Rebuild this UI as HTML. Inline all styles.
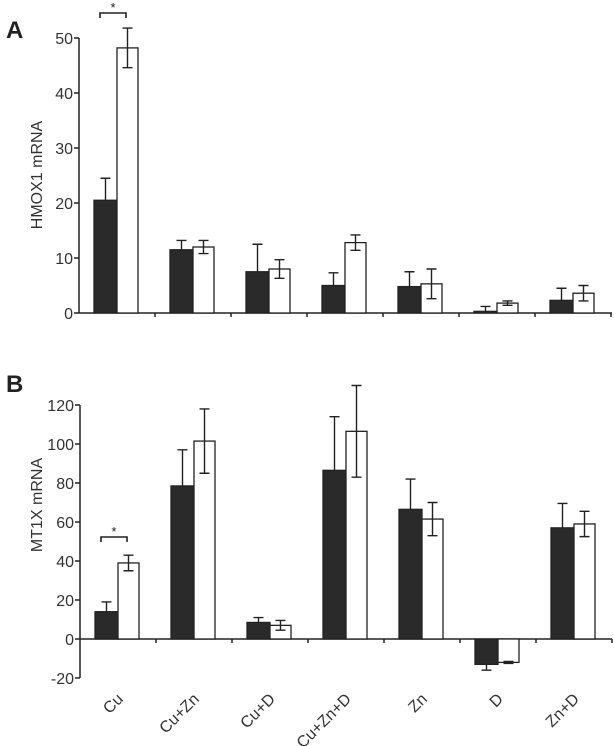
<!DOCTYPE html>
<html><head><meta charset="utf-8"><style>
body{margin:0;background:#fff;}
svg{display:block;font-family:"Liberation Sans",Arial,sans-serif;}
</style></head><body>
<svg id="chart" width="614" height="746" xmlns="http://www.w3.org/2000/svg">
<text x="6" y="38" font-size="24" font-weight="bold" fill="#222">A</text>
<text x="6" y="392" font-size="24" font-weight="bold" fill="#222">B</text>
</svg>
<script>
const categories=["Cu","Cu+Zn","Cu+D","Cu+Zn+D","Zn","D","Zn+D"];
const aBlack=[20.5,11.5,7.5,5,4.8,0.3,2.3];
const aBlackErr=[4,1.7,5,2.3,2.7,0.9,2.2];
const aWhite=[48.2,12,8,12.8,5.3,1.8,3.6];
const aWhiteErr=[3.6,1.2,1.7,1.4,2.7,0.4,1.4];
const aTicks=[0,10,20,30,40,50];
const bBlack=[14,78.5,8.5,86.5,66.5,-13,57];
const bBlackErr=[5,18.5,2.5,27.5,15.5,3,12.5];
const bWhite=[39,101.5,7,106.5,61.5,-12,59];
const bWhiteErr=[4,16.5,2.5,23.5,8.5,0.5,6.5];
const bTicks=[-20,0,20,40,60,80,100,120];

const svg=document.getElementById('chart');
const NS='http://www.w3.org/2000/svg';
function mk(tag,attrs,parent){const e=document.createElementNS(NS,tag);for(const k in attrs)e.setAttribute(k,attrs[k]);(parent||svg).appendChild(e);return e;}

function panel(o){
  const g=mk('g',{});
  
  
  const y=v=>o.y0-(v)*o.scale;
  const x0=o.ax, step=76;
  const ya=mk('line',{x1:x0,x2:x0,y1:y(o.ticks[o.ticks.length-1]),y2:y(o.ticks[0]),stroke:'#222','stroke-width':1.5},g);
  
  o.ticks.forEach(t=>{
    mk('line',{x1:x0-5,x2:x0,y1:y(t),y2:y(t),stroke:'#222','stroke-width':1.5},g);
    const tx=mk('text',{x:x0-6,y:y(t)+6,'font-size':16,'text-anchor':'end',fill:'#333'},g);
    tx.textContent=t;
    
  });
  const xa=mk('line',{x1:x0,x2:612,y1:y(0),y2:y(0),stroke:'#222','stroke-width':1.5},g);
  
  categories.forEach((c,i)=>{
    const tx0=x0+step*(i+1);
    mk('line',{x1:tx0,x2:tx0,y1:y(0),y2:y(0)+4,stroke:'#222','stroke-width':1.5},g);
    const bx=x0+step*i+15;
    [[o.black,o.berr,'#2a2a2a',23,'black'],[o.white,o.werr,'#fff',21,'white']].forEach(([vals,errs,fill,w,nm],k)=>{
      const xx=bx+(k?23:0), v=vals[i];
      const r=mk('rect',{x:xx,y:Math.min(y(v),y(0)),width:w,height:Math.abs(y(v)-y(0)),fill:fill,stroke:'#222','stroke-width':1.3},g);
      
      
      const cx=xx+w/2, e=errs[i], sgn=v>=0?1:-1;
      const top=y(v+sgn*e), bot=(nm==='black')?y(v):y(v-sgn*e);
      const el=mk('path',{d:`M${cx},${top}L${cx},${bot}M${cx-5},${top}L${cx+5},${top}`+(nm==='white'?`M${cx-5},${bot}L${cx+5},${bot}`:''),stroke:'#222','stroke-width':1.4,fill:'none'},g);
      
      
    });
    if(o.labels){
      const lx=x0+step*i+44, ly=y(-20)+22;
      const t=mk('text',{x:lx,y:ly,'font-size':16,'text-anchor':'end',fill:'#333',transform:`rotate(-45 ${lx} ${ly})`},g);
      t.textContent=c;
      
    }
  });
  const yt=mk('text',{x:0,y:0,'font-size':16,'text-anchor':'middle',fill:'#333',transform:`translate(${o.titleX},${o.titleY}) rotate(-90)`},g);
  yt.textContent=o.title;
  
  const by=o.brY;
  const br=mk('path',{d:`M${x0+21},${by+5}L${x0+21},${by}L${x0+47},${by}L${x0+47},${by+5}`,stroke:'#222','stroke-width':1.6,fill:'none'},g);
  
  const st=mk('text',{x:x0+34,y:by-1,'font-size':13,'text-anchor':'middle',fill:'#222'},g);
  st.textContent='*';
  
}
panel({name:'panel-a-hmox1',ax:79,y0:313,scale:5.5,ticks:aTicks,black:aBlack,berr:aBlackErr,white:aWhite,werr:aWhiteErr,title:'HMOX1 mRNA',titleX:42,titleY:175,brY:13,labels:false});
panel({name:'panel-b-mt1x',ax:80,y0:639,scale:1.95,ticks:bTicks,black:bBlack,berr:bBlackErr,white:bWhite,werr:bWhiteErr,title:'MT1X mRNA',titleX:42,titleY:505,brY:537,labels:true});
</script>
</body></html>
